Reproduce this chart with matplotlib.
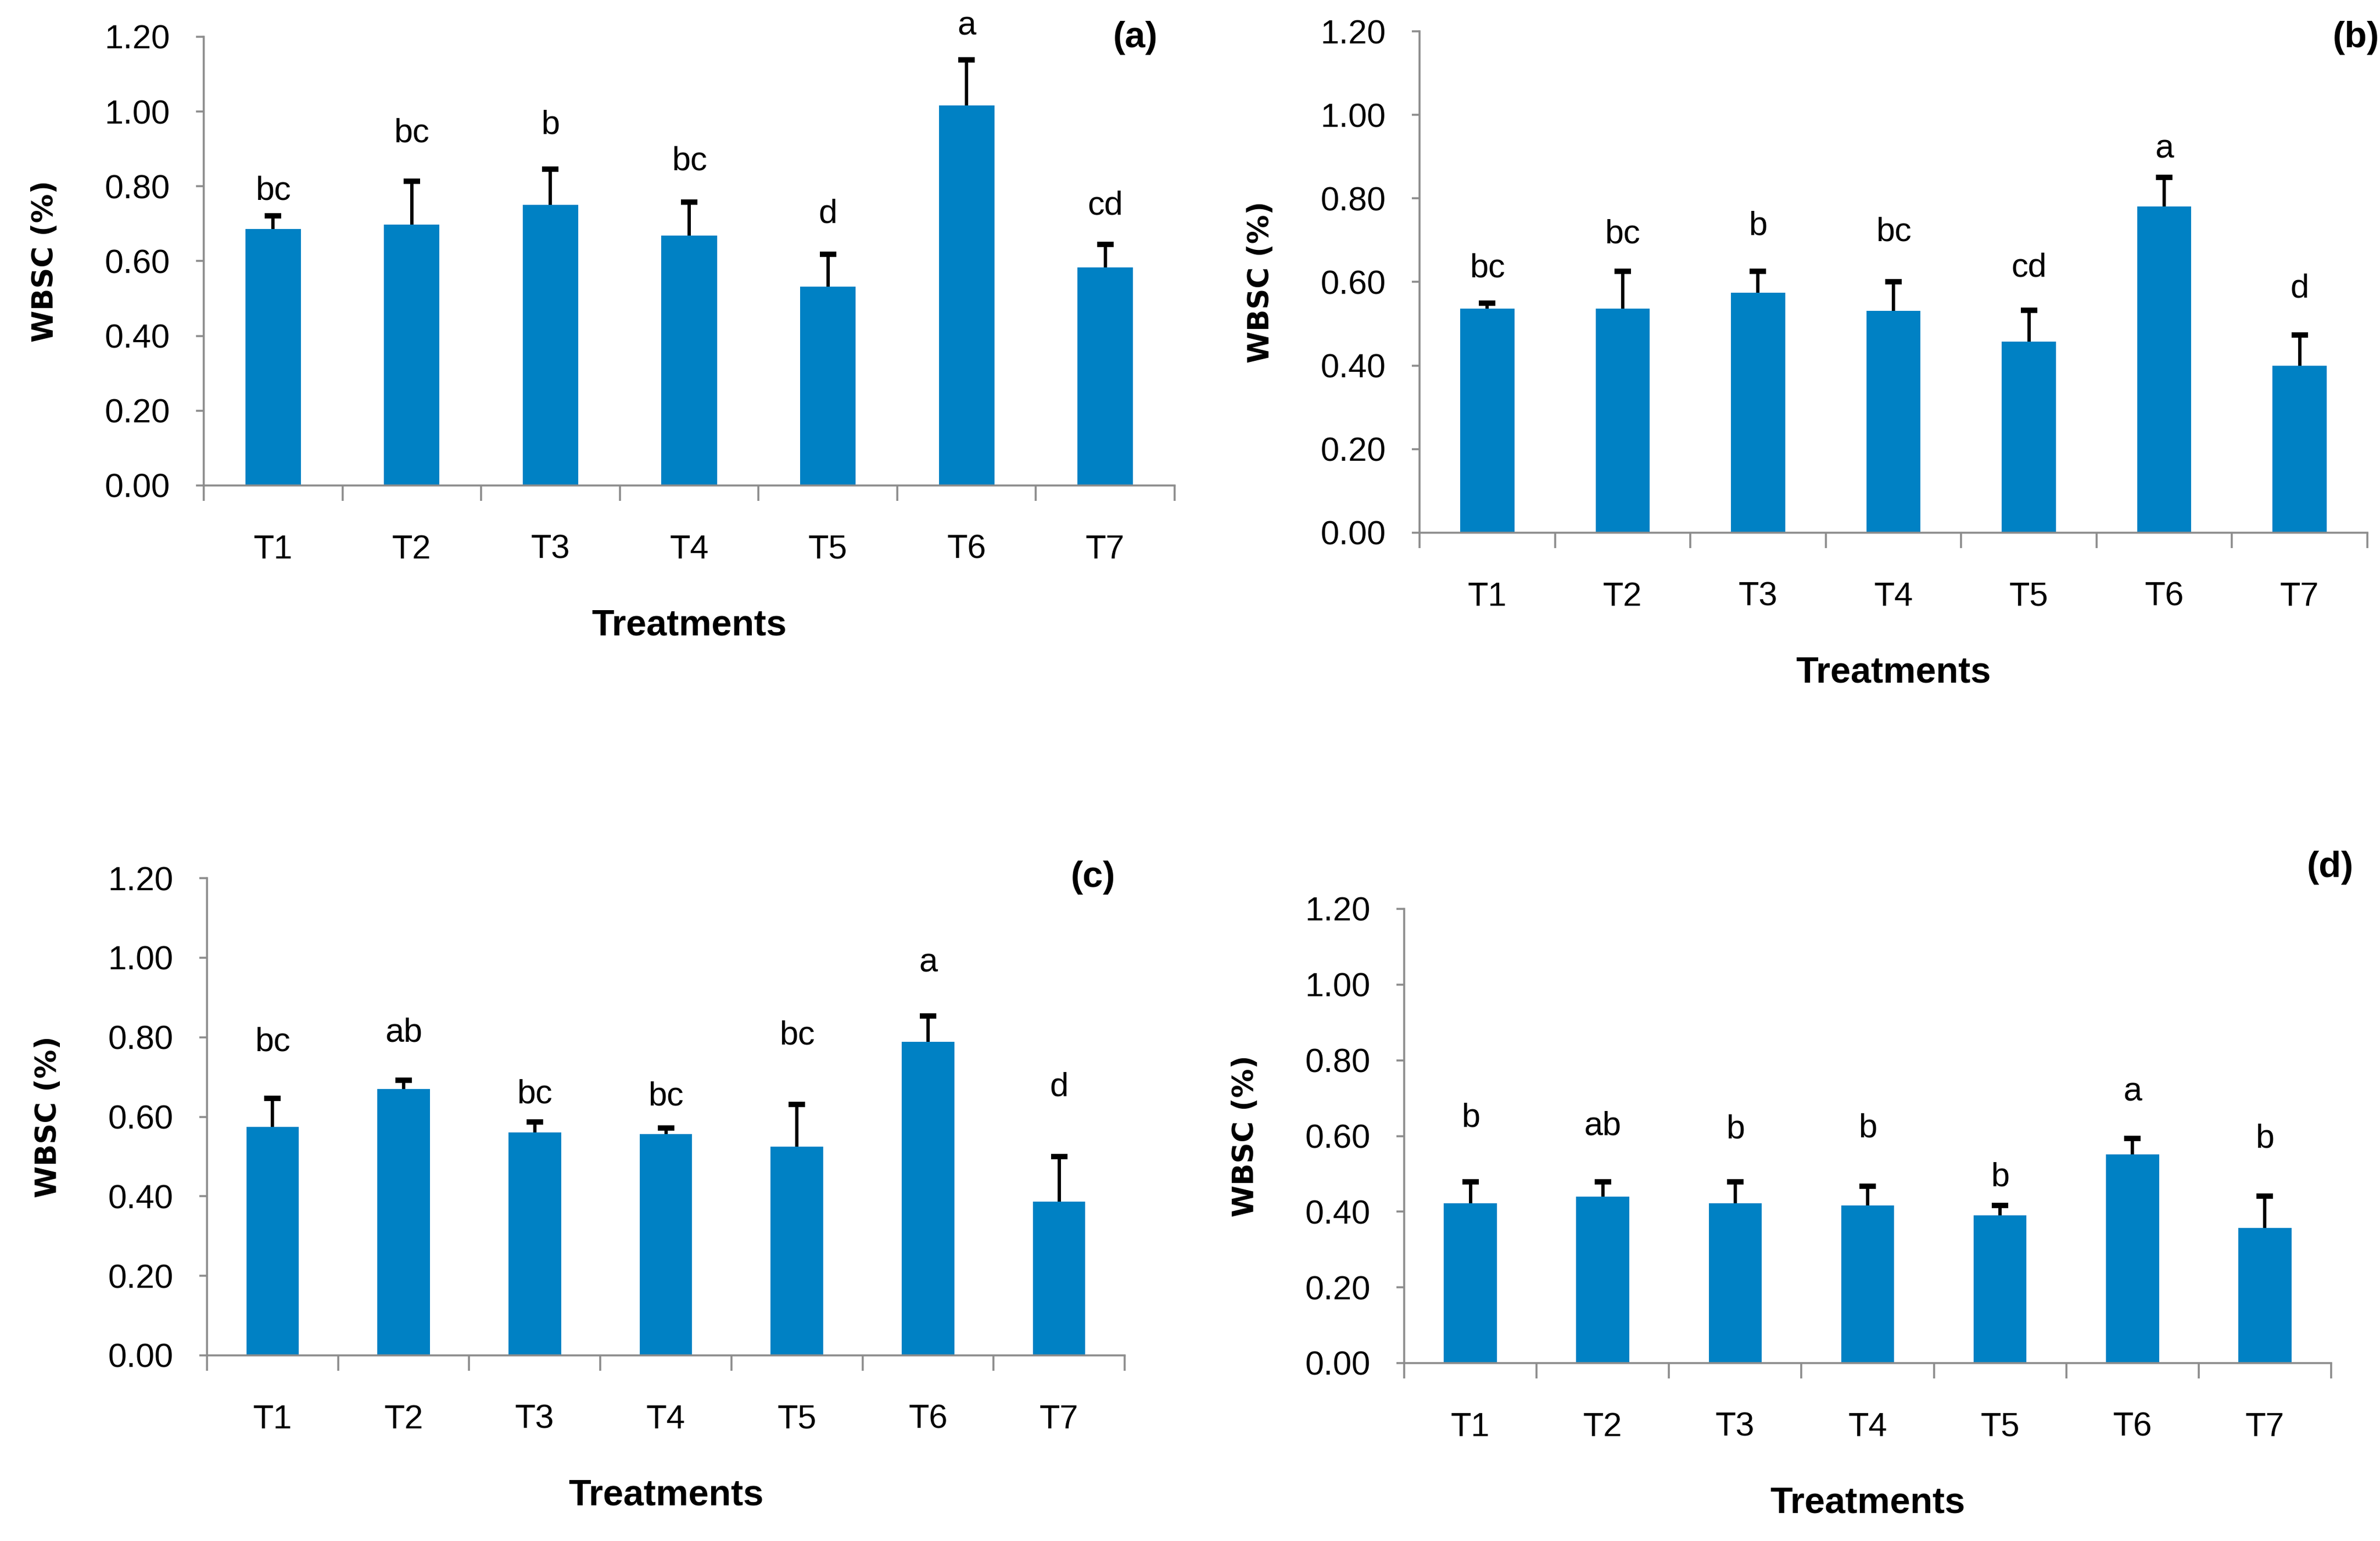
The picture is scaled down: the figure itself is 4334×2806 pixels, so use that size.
import matplotlib
matplotlib.use('Agg')
from matplotlib import pyplot as plt

treatments = ['T1', 'T2', 'T3', 'T4', 'T5', 'T6', 'T7']

means_a = [0.686, 0.697, 0.751, 0.669, 0.532, 1.016, 0.583]
err_a = [0.035, 0.117, 0.095, 0.089, 0.086, 0.122, 0.062]
letters_a = ['bc', 'bc', 'b', 'bc', 'd', 'a', 'cd']
letter_y_a = [0.788, 0.942, 0.963, 0.867, 0.725, 1.228, 0.748]

means_b = [0.536, 0.536, 0.575, 0.531, 0.458, 0.781, 0.399]
err_b = [0.014, 0.089, 0.050, 0.069, 0.074, 0.070, 0.074]
letters_b = ['bc', 'bc', 'b', 'bc', 'cd', 'a', 'd']
letter_y_b = [0.632, 0.714, 0.733, 0.719, 0.634, 0.918, 0.583]

means_c = [0.575, 0.670, 0.561, 0.556, 0.525, 0.788, 0.386]
err_c = [0.071, 0.022, 0.026, 0.016, 0.106, 0.065, 0.114]
letters_c = ['bc', 'ab', 'bc', 'bc', 'bc', 'a', 'd']
letter_y_c = [0.787, 0.811, 0.656, 0.651, 0.803, 0.986, 0.674]

means_d = [0.422, 0.439, 0.422, 0.417, 0.390, 0.552, 0.357]
err_d = [0.057, 0.040, 0.057, 0.050, 0.026, 0.041, 0.084]
letters_d = ['b', 'ab', 'b', 'b', 'b', 'a', 'b']
letter_y_d = [0.647, 0.626, 0.616, 0.620, 0.490, 0.716, 0.592]

yticks = [0.0, 0.2, 0.4, 0.6, 0.8, 1.0, 1.2]

W, H = 4334, 2806
BAR = '#0081C4'
GREY = '#8C8C8C'
FONT = ['Liberation Sans Narrow', 'Liberation Sans', 'DejaVu Sans']


def px_box(left, right, top, bottom):
    return [left / W, 1 - bottom / H, (right - left) / W, (bottom - top) / H]


def draw_panel(fig, box, means, errs, letters, letter_y, tag, tag_xy):
    ax = fig.add_axes(px_box(*box))
    x = list(range(len(treatments)))
    ax.bar(x, means, width=0.4, color=BAR, zorder=2)
    # only the upper half of the error bar, with a cap at the top only
    ax.errorbar(x, means, yerr=[[0] * len(errs), errs], fmt='none', ecolor='black',
                elinewidth=2.2, capsize=0, zorder=3)
    tops = [m + e for m, e in zip(means, errs)]
    ax.scatter(x, tops, marker='_', s=110, linewidths=3.5, color='black', zorder=4)
    for xi, lab, ly in zip(x, letters, letter_y):
        ax.text(xi, ly, lab, ha='center', va='center', fontsize=22, family=FONT, clip_on=False)

    ax.set_xlim(-0.5, len(treatments) - 0.5)
    ax.set_ylim(0, 1.2)
    ax.set_yticks(yticks)
    ax.set_yticklabels(['%.2f' % v for v in yticks], family=FONT, fontsize=22)
    ax.set_xticks(x)
    ax.set_xticklabels(treatments, family=FONT, fontsize=22)
    ax.set_xticks([i - 0.5 for i in range(len(treatments) + 1)], minor=True)
    ax.tick_params(axis='x', which='major', length=0, pad=32)
    ax.tick_params(axis='x', which='minor', length=10, width=1.3, color=GREY, direction='out')
    ax.tick_params(axis='y', length=5, width=1.3, color=GREY, direction='out', pad=17)

    for side in ('top', 'right'):
        ax.spines[side].set_visible(False)
    for side in ('left', 'bottom'):
        ax.spines[side].set_color(GREY)
        ax.spines[side].set_linewidth(1.3)

    ax.annotate('Treatments', xy=(0.5, 0), xycoords='axes fraction', xytext=(0, -92),
                textcoords='offset points', ha='center', va='center', fontsize=24,
                fontweight='bold', family=FONT)
    ax.annotate('WBSC (%)', xy=(0, 0.5), xycoords='axes fraction', xytext=(-104, 0),
                textcoords='offset points', ha='center', va='center', rotation=90,
                fontsize=19, fontweight='bold', family=['DejaVu Sans'])
    fig.text(tag_xy[0] / W, 1 - tag_xy[1] / H, tag, ha='center', va='center', fontsize=24,
             fontweight='bold', family=FONT)
    return ax


fig = plt.figure(figsize=(W / 200, H / 200), dpi=200)
draw_panel(fig, (371, 2139, 67, 884), means_a, err_a, letters_a, letter_y_a, '(a)', (2067, 69))
draw_panel(fig, (2585, 4311, 57, 970), means_b, err_b, letters_b, letter_y_b, '(b)', (4290, 69))
draw_panel(fig, (377, 2048, 1599, 2468), means_c, err_c, letters_c, letter_y_c, '(c)', (1990, 1598))
draw_panel(fig, (2557, 4245, 1655, 2482), means_d, err_d, letters_d, letter_y_d, '(d)', (4243, 1580))
fig.savefig('out.png', dpi=200, facecolor='white')
